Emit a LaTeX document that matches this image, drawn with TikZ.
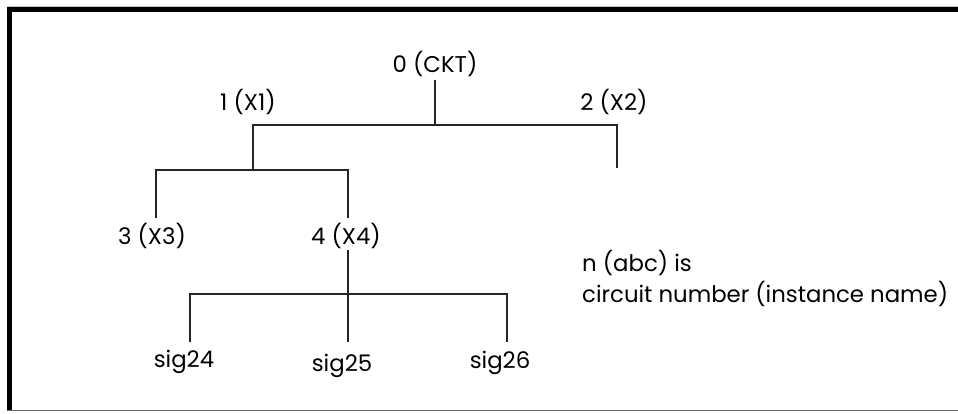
\documentclass[tikz,border=0pt]{standalone}
\usepackage{fontspec}
\setmainfont{Poppins}
\begin{document}
\begin{tikzpicture}[x=1pt,y=-1pt,
  lbl/.style={anchor=base,inner sep=0pt,font=\fontsize{22.8}{27}\selectfont},
  wire/.style={line width=1.2pt,black!85}]
\useasboundingbox (0,0) rectangle (958,413);
% frame
\draw[gray!45,line width=1pt] (7,6.5) -- (958,6.5);
\fill[black] (7,7) rectangle (958,12);
\fill[black] (7,7) rectangle (12,411);
\draw[gray!80!black,line width=1.5pt] (7,410.5) -- (958,410.5);
% labels
\node[lbl] (n0) at (435,72) {0 (CKT)};
\node[lbl] (n1) at (248,110) {1 (X1)};
\node[lbl] (n2) at (614,110) {2 (X2)};
\node[lbl] (n3) at (152,244) {3 (X3)};
\node[lbl] (n4) at (346,244) {4 (X4)};
\node[lbl] (s24) at (184,367) {sig24};
\node[lbl] (s25) at (342,371) {sig25};
\node[lbl] (s26) at (500,368) {sig26};
\node[lbl,anchor=base west] (note1) at (582,271) {n (abc) is};
\node[lbl,anchor=base west] (note2) at (582,302) {circuit number (instance name)};
% junction / end coordinates
\coordinate (c0) at (435,80);
\coordinate (j0) at (435,125);
\coordinate (c1) at (253,170);
\coordinate (c2) at (617,168);
\coordinate (c3) at (156,218);
\coordinate (c4a) at (348,218);
\coordinate (c4b) at (348,250);
\coordinate (j4) at (348,294);
\coordinate (e24) at (190,342);
\coordinate (e25) at (348,342);
\coordinate (e26) at (507,342);
% connectors
\draw[wire] (c0) -- (j0);
\draw[wire] (c1) |- (j0) -| (c2);
\draw[wire] (c3) |- (c1) -| (c4a);
\draw[wire] (c4b) -- (j4);
\draw[wire] (e24) |- (j4) -| (e26);
\draw[wire] (j4) -- (e25);
\end{tikzpicture}
\end{document}
